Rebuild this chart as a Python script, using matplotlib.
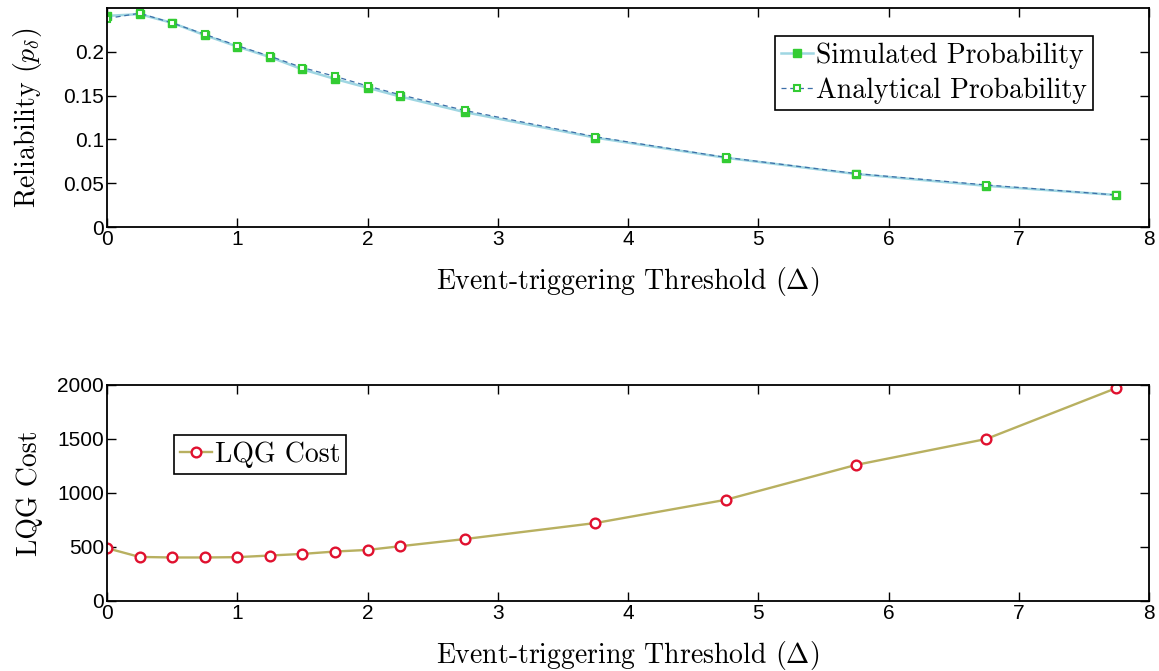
import matplotlib
matplotlib.use("Agg")
import matplotlib.pyplot as plt

delta = [0, 0.25, 0.5, 0.75, 1.0, 1.25, 1.5, 1.75, 2.0, 2.25, 2.75, 3.75, 4.75, 5.75, 6.75, 7.75]
simulated = [0.241, 0.243, 0.233, 0.219, 0.206, 0.194, 0.180, 0.169, 0.159, 0.149, 0.131, 0.102, 0.079, 0.0605, 0.047, 0.0365]
analytical = [0.238, 0.244, 0.233, 0.220, 0.207, 0.195, 0.182, 0.172, 0.161, 0.151, 0.133, 0.103, 0.0795, 0.061, 0.048, 0.0365]
lqg_cost = [489, 408, 403, 403, 406, 421, 436, 458, 473, 507, 574, 722, 937, 1260, 1500, 1972]

xticks = [0, 1, 2, 3, 4, 5, 6, 7, 8]
top_yticks = [0, 0.05, 0.1, 0.15, 0.2]
top_yticklabels = ['0', '0.05', '0.1', '0.15', '0.2']
bot_yticks = [0, 500, 1000, 1500, 2000]

plt.rcParams['mathtext.fontset'] = 'cm'
plt.rcParams['axes.unicode_minus'] = False
TICKFONT = 'Liberation Sans'
LABELFONT = 'cmr10'
LABELSIZE = 20

fig = plt.figure(figsize=(11.59, 6.71), dpi=100)
W, H = 1159, 671

def add_ax(l, t, r, b):
    return fig.add_axes([l / W, 1 - b / H, (r - l) / W, (b - t) / H])

ax1 = add_ax(107, 8, 1149, 227)
ax2 = add_ax(107, 385, 1149, 601)

for ax in (ax1, ax2):
    ax.tick_params(direction='in', top=True, right=True, length=6.5, width=1.0,
                   labelsize=15, pad=2)
    for sp in ax.spines.values():
        sp.set_linewidth(1.3)
    ax.set_xlim(0, 8)
    ax.set_xticks(xticks)
    ax.set_xticklabels([str(v) for v in xticks], fontfamily=TICKFONT)

# Top plot
ax1.plot(delta, simulated, '-', color='#9fd6e2', lw=1.8, marker='s', ms=6,
         mfc='#33cc33', mec='#33cc33', label='Simulated Probability')
ax1.plot(delta, analytical, '--', color='#3d6fa8', lw=0.9, marker='s', ms=5,
         mfc='white', mec='#33cc33', mew=1.5, dashes=(4, 3), label='Analytical Probability')
ax1.set_ylim(0, 0.25)
ax1.set_yticks(top_yticks)
ax1.set_yticklabels(top_yticklabels, fontfamily=TICKFONT)
ax1.set_ylabel(r'Reliability ($p_\delta$)', fontfamily=LABELFONT, fontsize=LABELSIZE, labelpad=14)
ax1.set_xlabel(r'Event-triggering Threshold ($\Delta$)', fontfamily=LABELFONT, fontsize=LABELSIZE, labelpad=12)
leg1 = ax1.legend(loc='upper right', bbox_to_anchor=(1 - (1149 - 1093) / 1042, 1 - (36 - 8) / 219),
                  prop={'family': LABELFONT, 'size': LABELSIZE}, frameon=True, fancybox=False,
                  edgecolor='black', handlelength=1.15, handletextpad=0.1, borderpad=0.22,
                  labelspacing=0.32, borderaxespad=0, framealpha=1)
leg1.get_frame().set_linewidth(1.2)

# Bottom plot
ax2.plot(delta, lqg_cost, '-', color='#b8b060', lw=1.7, marker='o', ms=7,
         mfc='white', mec='#e0112f', mew=1.7, label='LQG Cost')
ax2.set_ylim(0, 2000)
ax2.set_yticks(bot_yticks)
ax2.set_yticklabels([str(v) for v in bot_yticks], fontfamily=TICKFONT)
ax2.set_ylabel('LQG Cost', fontfamily=LABELFONT, fontsize=LABELSIZE, labelpad=10)
ax2.set_xlabel(r'Event-triggering Threshold ($\Delta$)', fontfamily=LABELFONT, fontsize=LABELSIZE, labelpad=12)
leg2 = ax2.legend(loc='upper left', bbox_to_anchor=((174 - 107) / 1042, 1 - (435 - 385) / 216),
                  prop={'family': LABELFONT, 'size': LABELSIZE}, frameon=True, fancybox=False,
                  edgecolor='black', handlelength=1.15, handletextpad=0.1, borderpad=0.22,
                  borderaxespad=0, framealpha=1)
leg2.get_frame().set_linewidth(1.2)

fig.savefig('out.png', dpi=100)
